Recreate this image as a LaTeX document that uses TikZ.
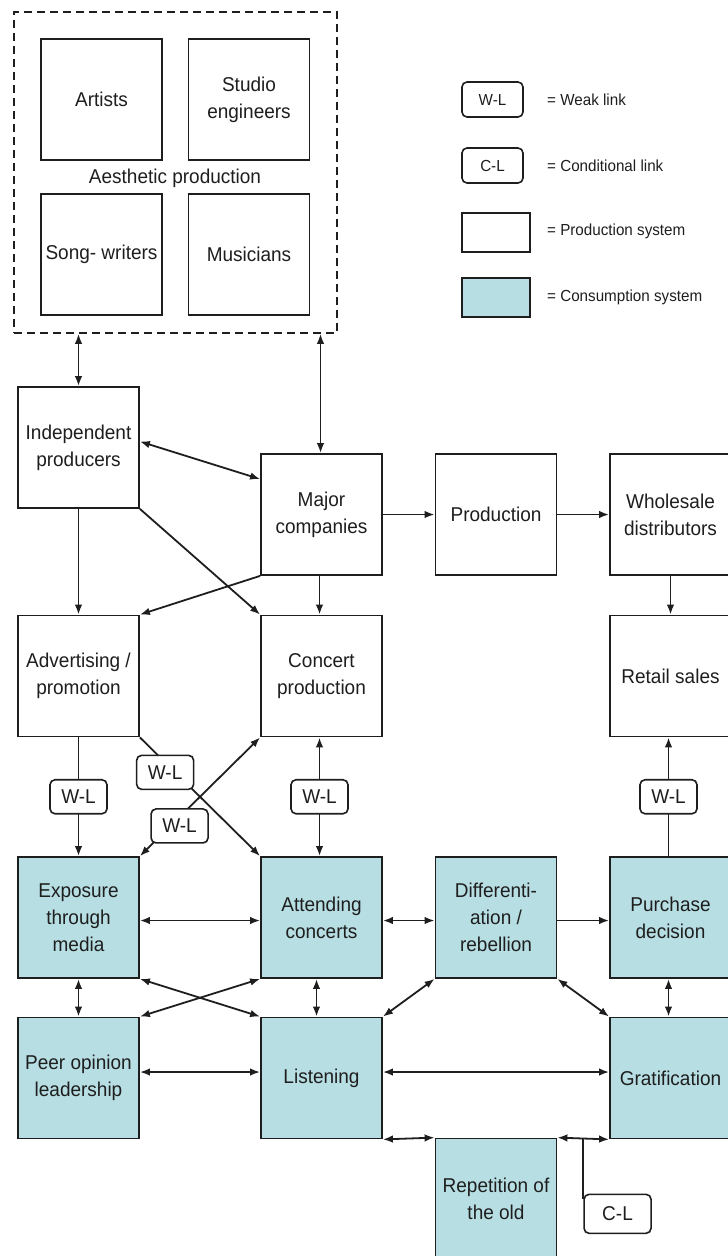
\documentclass[tikz,border=0pt]{standalone}
\usepackage{fontspec}
\setmainfont{Liberation Sans}[FakeStretch=0.95]
\usetikzlibrary{arrows.meta,calc}

\definecolor{ink}{RGB}{30,30,30}
\definecolor{consfill}{RGB}{183,222,227}

\tikzset{
  box/.style={draw=ink, line width=1.8pt, minimum width=121pt, minimum height=121pt,
    inner sep=2pt, align=center, text=ink, font=\fontsize{20}{27}\selectfont},
  prod/.style={box, fill=white},
  cons/.style={box, fill=consfill},
  wl/.style={draw=ink, fill=white, line width=1.6pt, rounded corners=5pt,
    minimum width=57pt, minimum height=34pt, inner sep=0pt, text=ink,
    font=\fontsize{20}{24}\selectfont},
  legendbox/.style={draw=ink, line width=1.6pt, inner sep=0pt, text=ink,
    font=\fontsize{16}{20}\selectfont},
  legendtext/.style={anchor=west, inner sep=0pt, text=ink, font=\fontsize{16}{20}\selectfont},
  link/.style={draw=ink, line width=1.8pt},
  one/.style={link, -{Latex[length=10pt,width=7.5pt]}},
  two/.style={link, {Latex[length=10pt,width=7.5pt]}-{Latex[length=10pt,width=7.5pt]}},
}

\begin{document}
\begin{tikzpicture}[x=1pt, y=-1pt]
\useasboundingbox (0,0) rectangle (728,1256);
\clip (0,0) rectangle (728,1256);

% aesthetic production group
\node[draw=ink, line width=1.6pt, dash pattern=on 8pt off 5pt,
      minimum width=323pt, minimum height=321pt] (aes) at (175.5,172.5) {};
\node[prod] (artists) at (101.5,99.5) {Artists};
\node[prod] (studio) at (249,99.5) {Studio\\engineers};
\node[prod] (song) at (101.5,254.5) {Song- writers};
\node[prod] (musicians) at (249,254.5) {Musicians};
\node[text=ink, font=\fontsize{20}{27}\selectfont] (aestitle) at (175,178) {Aesthetic production};

% legend
\node[legendbox, rounded corners=5pt, minimum width=61pt, minimum height=35pt] (kwl) at (492.5,99.5) {W-L};
\node[legendtext] (kwltext) at (547,100) {= Weak link};
\node[legendbox, rounded corners=5pt, minimum width=61pt, minimum height=35pt] (kcl) at (492.5,165.5) {C-L};
\node[legendtext] (kcltext) at (547,165.5) {= Conditional link};
\node[legendbox, fill=white, minimum width=68pt, minimum height=39pt] (kprod) at (496,232.5) {};
\node[legendtext] (kprodtext) at (547,231) {= Production system};
\node[legendbox, fill=consfill, minimum width=68pt, minimum height=39pt] (kcons) at (496,297.5) {};
\node[legendtext] (kconstext) at (547,297) {= Consumption system};

% production system
\node[prod] (indep) at (78.5,447.5) {Independent\\producers};
\node[prod] (major) at (321.5,514.5) {Major\\companies};
\node[prod] (production) at (496,514.5) {Production};
\node[prod] (wholesale) at (670.5,514.5) {Wholesale\\distributors};
\node[prod] (adv) at (78.5,676) {Advertising /\\promotion};
\node[prod] (concert) at (321.5,676) {Concert\\production};
\node[prod] (retail) at (670.5,676) {Retail sales};

% consumption system
\node[cons] (exposure) at (78.5,917.5) {Exposure\\through\\media};
\node[cons] (attending) at (321.5,917.5) {Attending\\concerts};
\node[cons] (diff) at (496,917.5) {Differenti-\\ation /\\rebellion};
\node[cons] (purchase) at (670.5,917.5) {Purchase\\decision};
\node[cons] (peer) at (78.5,1078) {Peer opinion\\leadership};
\node[cons] (listening) at (321.5,1078) {Listening};
\node[cons] (grat) at (670.5,1078) {Gratification};
\node[cons] (rep) at (496,1199) {Repetition of\\the old};

% links from the aesthetic group
\draw[two] (indep.north) -- (indep.north |- aes.south);
\draw[two] ([xshift=-1pt]major.north) -- ([xshift=-1pt]major.north |- aes.south);

% production links
\draw[two] ([yshift=6pt]indep.east) -- ([yshift=-26pt]major.north west);
\draw[one] (indep.south) -- (adv.north);
\draw[one] (indep.south east) -- (concert.north west);
\draw[one] (major.south west) -- (adv.north east);
\draw[one] ([xshift=-2pt]major.south) -- ([xshift=-2pt]concert.north);
\draw[one] (major.east) -- (production.west);
\draw[one] (production.east) -- (wholesale.west);
\draw[one] (wholesale.south) -- (retail.north);

% weak links between the two systems
\draw[one] (adv.south) -- node[wl] (wl1) {W-L} (exposure.north);
\draw[one] (adv.south east) -- node[wl, pos=0.21, yshift=-10pt] (wl2) {W-L} (attending.north west);
\draw[two] (exposure.north east) -- node[wl, pos=0.33, yshift=-9pt] (wl3) {W-L} (concert.south west);
\draw[two] ([xshift=-2pt]concert.south) -- node[wl] (wl4) {W-L} ([xshift=-2pt]attending.north);
\draw[one] ([xshift=-2pt]purchase.north) -- node[wl] (wl5) {W-L} ([xshift=-2pt]retail.south);

% consumption links
\draw[two] ([yshift=-3pt]exposure.east) -- ([yshift=-3pt]attending.west);
\draw[two] ([yshift=-3pt]attending.east) -- ([yshift=-3pt]diff.west);
\draw[one] ([yshift=-3pt]diff.east) -- ([yshift=-3pt]purchase.west);
\draw[two] (exposure.south) -- (peer.north);
\draw[two] ([xshift=-5pt]attending.south) -- ([xshift=-5pt]listening.north);
\draw[two] ([xshift=-2pt]purchase.south) -- ([xshift=-2pt]grat.north);
\draw[two] (exposure.south east) -- (listening.north west);
\draw[two] (attending.south west) -- (peer.north east);
\draw[two] (listening.north east) -- (diff.south west);
\draw[two] (diff.south east) -- (grat.north west);
\draw[two] ([yshift=6pt]peer.east) -- ([yshift=6pt]listening.west);
\draw[two] ([yshift=6pt]listening.east) -- ([yshift=6pt]grat.west);
\draw[two] (listening.south east) -- (rep.north west);
\draw[two] (rep.north east) -- (grat.south west);

% conditional link
\coordinate (cltap) at ($(rep.north east)!0.5!(grat.south west)$);
\node[wl, anchor=north west, minimum width=67pt, minimum height=39pt] (cl) at ($(cltap)+(0,55)$) {C-L};
\draw[link] (cltap) -- ([yshift=-5pt]cl.north west);

\end{tikzpicture}
\end{document}
